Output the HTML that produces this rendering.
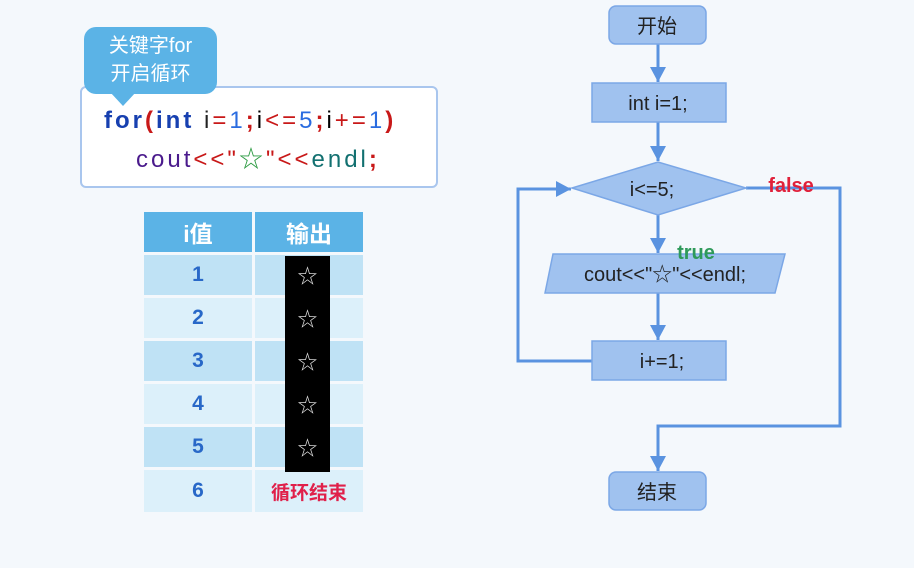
<!DOCTYPE html>
<html><head><meta charset="utf-8"><style>
body{margin:0;width:914px;height:568px;background:#f4f8fc;position:relative;overflow:hidden;font-family:"Liberation Sans","Noto Sans CJK SC",sans-serif}
.a{position:absolute}
.code{left:80px;top:86px;width:358px;height:102px;background:#fff;border:2px solid #a9c6ee;border-radius:6px;box-sizing:border-box}
.bub{left:84px;top:27px;width:133px;height:67px;background:#5bb3e6;border-radius:12px;color:#fff;font-size:20px;line-height:28px;text-align:center;padding-top:5px;box-sizing:border-box}
.ln{font-size:24px;font-weight:normal;white-space:nowrap;letter-spacing:3px}
table{position:absolute;left:144px;top:212px;border-collapse:separate;border-spacing:3px;margin:-3px}
td{width:108px;text-align:center;font-weight:bold;font-size:21px;color:#2868c8;padding:0}
th{background:#5bb3e6;color:#fff;font-size:23px;height:40px;padding:0}
.r1 td{background:#bfe2f5;height:40px}.r2 td{background:#dcf0fa;height:40px}
</style></head><body>
<div class="a code"></div>
<div class="a bub">关键字for<br>开启循环</div>
<svg class="a" style="left:110px;top:92px" width="30" height="16"><polygon points="0,0 26,0 13,14" fill="#5bb3e6"/></svg>
<div class="a ln" style="left:104px;top:107px"><b style="color:#1740b0">for</b><b style="color:#c81818">(</b><b style="color:#1740b0">int</b> <span style="color:#222">i</span><span style="color:#c81818">=</span><span style="color:#2a6ce0">1</span><b style="color:#c81818">;</b>i<span style="color:#c81818">&lt;=</span><span style="color:#2a6ce0">5</span><b style="color:#c81818">;</b>i<span style="color:#c81818">+=</span><span style="color:#2a6ce0">1</span><b style="color:#c81818">)</b></div>
<div class="a ln" style="left:136px;top:139px"><span style="color:#4a1a8c">cout</span><span style="color:#c81818">&lt;&lt;</span><span style="color:#c81818">"</span><span style="color:#2a9a40">☆</span><span style="color:#c81818">"&lt;&lt;</span><span style="color:#127070">endl</span><b style="color:#c81818">;</b></div>
<table>
<tr><th>i值</th><th>输出</th></tr>
<tr class="r1"><td>1</td><td></td></tr>
<tr class="r2"><td>2</td><td></td></tr>
<tr class="r1"><td>3</td><td></td></tr>
<tr class="r2"><td>4</td><td></td></tr>
<tr class="r1"><td>5</td><td></td></tr>
<tr class="r2"><td style="height:42px">6</td><td style="color:#e0204a;font-size:19px">循环结束</td></tr>
</table>
<div class="a" style="left:285px;top:256px;width:45px;height:216px;background:#000;color:#ddd;font-size:20px;text-align:center;line-height:43px">☆<br>☆<br>☆<br>☆<br>☆</div>
<svg class="a" style="left:0;top:0" width="914" height="568">
<defs><marker id="m" markerWidth="16" markerHeight="16" refX="15" refY="8" orient="auto" markerUnits="userSpaceOnUse"><polygon points="0,0 15,8 0,16" fill="#5a93e0"/></marker></defs>
<g stroke="#5a93e0" stroke-width="3" fill="none">
<line x1="658" y1="44" x2="658" y2="82" marker-end="url(#m)"/>
<line x1="658" y1="122" x2="658" y2="161" marker-end="url(#m)"/>
<line x1="658" y1="215" x2="658" y2="253" marker-end="url(#m)"/>
<line x1="658" y1="293" x2="658" y2="340" marker-end="url(#m)"/>
<polyline points="592,361 518,361 518,189 571,189" marker-end="url(#m)"/>
<polyline points="746,188 840,188 840,426 658,426 658,471" marker-end="url(#m)"/>
</g>
<g fill="#a0c2ef" stroke="#7ba7e6" stroke-width="1.5">
<rect x="609" y="6" width="97" height="38" rx="7"/>
<rect x="592" y="83" width="134" height="39"/>
<polygon points="572,188 658,162 746,188 658,215"/>
<polygon points="553,254 785,254 775,293 545,293"/>
<rect x="592" y="341" width="134" height="39"/>
<rect x="609" y="472" width="97" height="38" rx="7"/>
</g>
<g font-size="20" fill="#222" text-anchor="middle" font-family="Liberation Sans,Noto Sans CJK SC,sans-serif">
<text x="657" y="33">开始</text>
<text x="658" y="110">int i=1;</text>
<text x="652" y="196">i&lt;=5;</text>
<text x="665" y="281">cout&lt;&lt;"☆"&lt;&lt;endl;</text>
<text x="662" y="368">i+=1;</text>
<text x="657" y="499">结束</text>
</g>
<text x="696" y="259" font-size="20" font-weight="bold" fill="#2e9a5a" text-anchor="middle" font-family="Liberation Sans,sans-serif">true</text>
<text x="791" y="192" font-size="20" font-weight="bold" fill="#e0203a" text-anchor="middle" font-family="Liberation Sans,sans-serif">false</text>
</svg>
</body></html>
